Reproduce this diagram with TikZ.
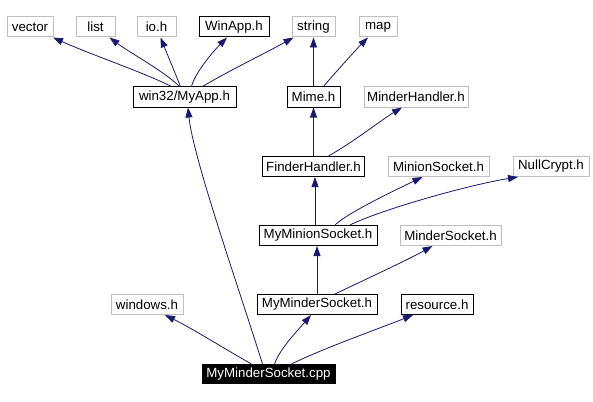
\documentclass[tikz,border=0pt]{standalone}
\usepackage{fontspec}
\setmainfont{Liberation Sans}
\usetikzlibrary{arrows.meta}
\definecolor{edgeblue}{HTML}{191970}
\definecolor{extgray}{HTML}{BFBFBF}
\begin{document}
\begin{tikzpicture}[x=1pt,y=-1pt,
  box/.style={draw=black, line width=1pt, fill=white, inner sep=0pt, minimum height=20pt,
    font=\fontsize{13.3}{15}\selectfont, text=black},
  ext/.style={box, draw=extgray},
  main/.style={box, fill=black, text=white, minimum height=19pt},
  dep/.style={draw=edgeblue, line width=0.8pt, -{Triangle[length=10pt,width=7pt]}}
]
\fill[white] (0,0) rectangle (593,401);
\useasboundingbox (0,0) rectangle (593,401);

% row 1
\node[ext, minimum width=46pt] (vector) at (30,27) {vector};
\node[ext, minimum width=39pt] (list) at (95.5,27) {list};
\node[ext, minimum width=39pt] (ioh) at (156.5,27) {io.h};
\node[box, minimum width=70pt] (winapp) at (234,27) {WinApp.h};
\node[ext, minimum width=43pt] (string) at (313.5,27) {string};
\node[ext, minimum width=38pt] (map) at (378,27) {map};
% row 2
\node[box, minimum width=103pt] (myapp) at (184.5,97) {win32/MyApp.h};
\node[box, minimum width=53pt] (mime) at (313.5,97) {Mime.h};
\node[ext, minimum width=104pt] (minderhandler) at (416,97) {MinderHandler.h};
% row 3
\node[box, minimum width=102pt] (finderhandler) at (313.5,166.5) {FinderHandler.h};
\node[ext, minimum width=101pt] (minionsocket) at (438.5,166.5) {MinionSocket.h};
\node[ext, minimum width=76pt] (nullcrypt) at (551,166.5) {NullCrypt.h};
% row 4
\node[box, minimum width=118pt] (myminionsocket) at (318,235.5) {MyMinionSocket.h};
\node[ext, minimum width=101pt] (mindersocket) at (450.5,235.5) {MinderSocket.h};
% row 5
\node[ext, minimum width=72pt] (windows) at (147,304.5) {windows.h};
\node[box, minimum width=120pt] (myminderh) at (317,304.5) {MyMinderSocket.h};
\node[box, minimum width=72pt] (resource) at (437,304.5) {resource.h};
% bottom
\node[main, minimum width=133pt] (cpp) at (268.5,374) {MyMinderSocket.cpp};

% edges from win32/MyApp.h
\draw[dep] ([xshift=-13pt]myapp.north) .. controls +(-30,-15) and +(40,18) .. ([xshift=23pt]vector.south);
\draw[dep] ([xshift=-5pt]myapp.north) .. controls +(-15,-15) and +(20,15) .. ([xshift=14pt]list.south);
\draw[dep] ([xshift=-4pt]myapp.north) -- ([xshift=4pt]ioh.south);
\draw[dep] ([xshift=7pt]myapp.north) .. controls +(4,-15) and +(-12,12) .. ([xshift=-7pt]winapp.south);
\draw[dep] ([xshift=18pt]myapp.north) .. controls +(25,-15) and +(-25,14) .. ([xshift=-20pt]string.south);
% Mime.h
\draw[dep] (mime.north) -- (string.south);
\draw[dep] ([xshift=10pt]mime.north) .. controls +(10,-12) and +(-10,10) .. ([xshift=-10pt]map.south);
% FinderHandler.h
\draw[dep] (finderhandler.north) -- (mime.south);
\draw[dep] ([xshift=15pt]finderhandler.north) .. controls +(25,-14) and +(-20,12) .. ([xshift=-14pt]minderhandler.south);
% MyMinionSocket.h
\draw[dep] ([xshift=-3pt]myminionsocket.north) -- ([xshift=1.5pt]finderhandler.south);
\draw[dep] ([xshift=17pt]myminionsocket.north) .. controls +(12,-12) and +(-25,12) .. ([xshift=-16pt]minionsocket.south);
\draw[dep] ([xshift=32pt]myminionsocket.north) .. controls +(30,-15) and +(-50,8) .. ([xshift=-33pt]nullcrypt.south);
% MyMinderSocket.h
\draw[dep] (myminderh.north) -- ([xshift=-1pt]myminionsocket.south);
\draw[dep] ([xshift=18pt]myminderh.north) .. controls +(25,-12) and +(-25,14) .. ([xshift=-18pt]mindersocket.south);
% MyMinderSocket.cpp
\draw[dep] ([xshift=-17pt]cpp.north) .. controls +(-25,-14) and +(30,15) .. ([xshift=18pt]windows.south);
\draw[dep] ([xshift=-6pt]cpp.north) .. controls +(-25,-80) and +(5,50) .. ([xshift=3.5pt]myapp.south);
\draw[dep] ([xshift=6pt]cpp.north) .. controls +(5,-15) and +(-12,14) .. ([xshift=-6pt]myminderh.south);
\draw[dep] ([xshift=23pt]cpp.north) .. controls +(30,-15) and +(-35,14) .. ([xshift=-24pt]resource.south);
\end{tikzpicture}
\end{document}
